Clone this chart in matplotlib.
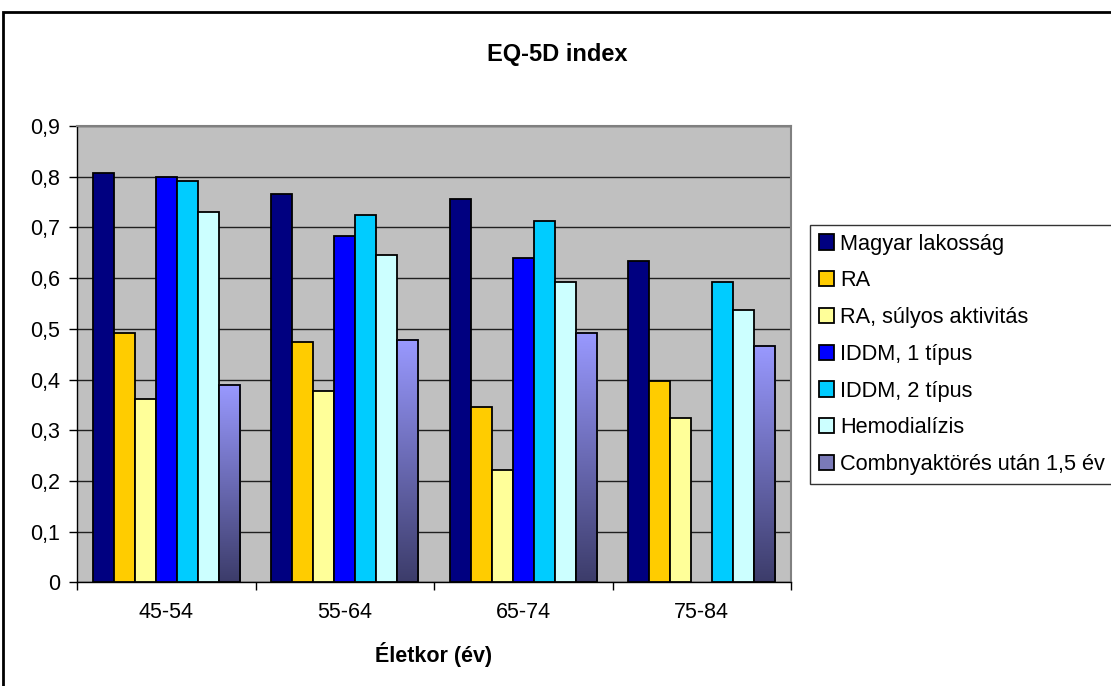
import numpy as np
import matplotlib.pyplot as plt
from matplotlib.colors import LinearSegmentedColormap
from matplotlib.patches import Rectangle

plt.rcParams['font.family'] = ['Liberation Sans', 'DejaVu Sans']

# data
groups = ['45-54', '55-64', '65-74', '75-84']
series = ['Magyar lakosság', 'RA', 'RA, súlyos aktivitás', 'IDDM, 1 típus',
          'IDDM, 2 típus', 'Hemodialízis', 'Combnyaktörés után 1,5 év']
magyar = [0.807, 0.766, 0.756, 0.634]
ra = [0.492, 0.475, 0.346, 0.397]
ra_sulyos = [0.362, 0.377, 0.222, 0.325]
iddm1 = [0.800, 0.684, 0.639, np.nan]
iddm2 = [0.792, 0.725, 0.712, 0.592]
hemo = [0.731, 0.646, 0.592, 0.537]
combny = [0.390, 0.478, 0.492, 0.466]
yticks = [0, 0.1, 0.2, 0.3, 0.4, 0.5, 0.6, 0.7, 0.8, 0.9]
ytick_labels = ['0', '0,1', '0,2', '0,3', '0,4', '0,5', '0,6', '0,7', '0,8', '0,9']

values = [magyar, ra, ra_sulyos, iddm1, iddm2, hemo, combny]
colors = ['#000080', '#FFCC00', '#FFFF99', '#0000FF', '#00CCFF', '#CCFFFF', None]
grad = LinearSegmentedColormap.from_list('grad', ['#3c3c6a', '#9999FF'])

fig = plt.figure(figsize=(11.11, 6.86), dpi=100)
ax = fig.add_axes([0.0693, 0.1509, 0.6427, 0.6654])
ax.set_facecolor('#C0C0C0')

w = 1 / 8.5
x = np.arange(len(groups))
handles = []
for i, (vals, name) in enumerate(zip(values, series)):
    pos = x + (i - 3) * w
    if colors[i] is not None:
        b = ax.bar(pos, vals, w, color=colors[i], edgecolor='black', linewidth=1.3, zorder=3, label=name)
        handles.append(b)
    else:
        b = ax.bar(pos, vals, w, facecolor='none', edgecolor='black', linewidth=1.3, zorder=4, label=name)
        g = np.linspace(0, 1, 256).reshape(-1, 1)
        for p, v in zip(pos, vals):
            ax.imshow(g, cmap=grad, origin='lower', aspect='auto',
                      extent=[p - w / 2, p + w / 2, 0, v], zorder=3)
        proxy = Rectangle((0, 0), 1, 1, facecolor='#7a7ab8', edgecolor='black', linewidth=1.3)
        handles.append(proxy)

ax.set_xlim(-0.5, 3.5)
ax.set_ylim(0, 0.9)
ax.set_aspect('auto')
ax.set_yticks(yticks)
ax.set_yticklabels(ytick_labels, fontsize=15.5)
ax.yaxis.grid(True, color='#202020', linewidth=1)
ax.set_axisbelow(True)

ax.set_xticks([-0.5, 0.5, 1.5, 2.5, 3.5])
ax.set_xticklabels([])
ax.set_xticks(x, minor=True)
ax.set_xticklabels(groups, minor=True, fontsize=15.5)
ax.tick_params(axis='x', which='major', length=6, width=1)
ax.tick_params(axis='x', which='minor', length=0, pad=14)
ax.tick_params(axis='y', length=6, width=1, pad=6)

for s in ['top', 'right']:
    ax.spines[s].set_color('#808080')
    ax.spines[s].set_linewidth(1.5)
for s in ['left', 'bottom']:
    ax.spines[s].set_color('black')
    ax.spines[s].set_linewidth(1)

ax.set_xlabel('Életkor (év)', fontsize=15.5, fontweight='bold', labelpad=14)
fig.text(0.502, 0.92, 'EQ-5D index', fontsize=17, fontweight='bold', ha='center', va='center')

leg = fig.legend(handles, series, loc='upper left', bbox_to_anchor=(0.729, 0.672),
                 fontsize=15.7, frameon=True, fancybox=False, edgecolor='black',
                 handlelength=0.7, handleheight=0.7, handletextpad=0.3,
                 labelspacing=0.72, borderpad=0.4, borderaxespad=0)
leg.get_frame().set_linewidth(1)

# chart frame
fig.patches.append(Rectangle((0.003, -0.05), 1.2, 0.9825 + 0.05, transform=fig.transFigure,
                             fill=False, edgecolor='black', linewidth=2, clip_on=False))

fig.savefig('out.png', dpi=100)
